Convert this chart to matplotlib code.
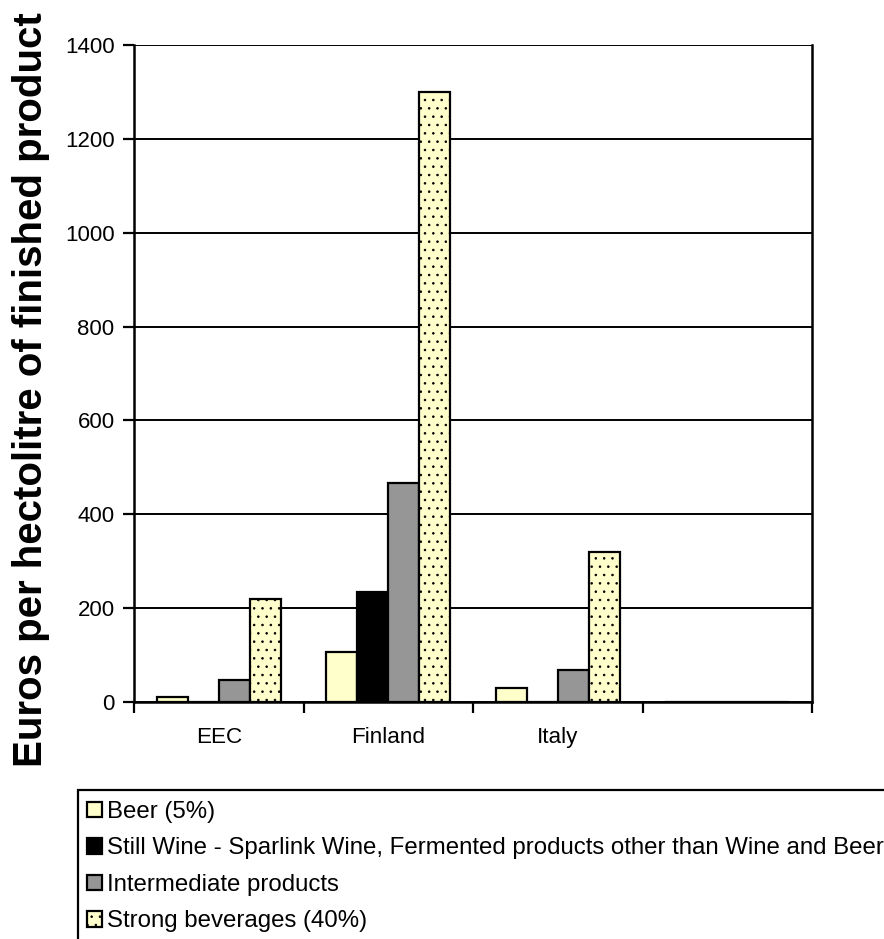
import matplotlib.pyplot as plt
from matplotlib.patches import Rectangle
import numpy as np

plt.rcParams['font.family'] = ['Liberation Sans', 'DejaVu Sans']
plt.rcParams['hatch.linewidth'] = 0.6

countries = ['EEC', 'Finland', 'Italy', '']
series_names = ['Beer (5%)',
                'Still Wine - Sparlink Wine, Fermented products other than Wine and Beer',
                'Intermediate products',
                'Strong beverages (40%)']
beer = [10, 107, 29, 0]
wine = [0, 234, 0, 0]
intermediate = [46, 467, 68, 0]
strong = [220, 1300, 320, 0]

colors = ['#FFFFCC', '#000000', '#969696', '#FFFFCC']
hatches = [None, None, None, '..']

fig = plt.figure(figsize=(8.84, 9.39), dpi=100)
ax = fig.add_axes([134 / 884, 1 - 702 / 939, 678 / 884, 657 / 939])

x = np.arange(len(countries)) + 0.5
width = 0.183
handles = []
for i, (vals, col, hat, name) in enumerate(zip([beer, wine, intermediate, strong],
                                                colors, hatches, series_names)):
    b = ax.bar(x + (i - 1.5) * width, vals, width, color=col, edgecolor='black',
               linewidth=1.6, hatch=hat, label=name, zorder=3)
    handles.append(b)

ax.set_xlim(0, 4)
ax.set_ylim(0, 1400)
ax.set_yticks(range(0, 1401, 200))
ax.yaxis.grid(True, color='black', linewidth=1.4, zorder=0)

# category boundaries get the ticks, labels sit between them
ax.set_xticks(range(0, 5))
ax.set_xticklabels([])
ax.set_xticks(x, minor=True)
ax.set_xticklabels(countries, minor=True)
ax.tick_params(axis='x', which='minor', length=0, pad=18, labelsize=16.2)
ax.tick_params(axis='x', which='major', direction='out', length=8, width=1.6)
ax.tick_params(axis='y', direction='out', length=8, width=1.6, pad=6, labelsize=16)

for s in ax.spines.values():
    s.set_linewidth(1.8)
ax.spines['top'].set_visible(False)

fig.text(31 / 884, 1 - 390 / 939, 'Euros per hectolitre of finished product',
         rotation=90, ha='center', va='center', fontsize=29, fontweight='bold')

# legend box runs off the right and bottom edges
fig.patches.append(Rectangle((78 / 884, -0.05), 1.0, 0.05 + 1 - 790 / 939,
                             transform=fig.transFigure, fill=False,
                             edgecolor='black', linewidth=1.6))
fig.legend(handles=handles, loc='upper left', bbox_to_anchor=(87 / 884, 1 - 801 / 939),
           frameon=False, fontsize=17.3, borderpad=0, borderaxespad=0,
           handlelength=0.62, handleheight=0.62, handletextpad=0.2, labelspacing=0.6)

fig.savefig('out.png', dpi=100)
